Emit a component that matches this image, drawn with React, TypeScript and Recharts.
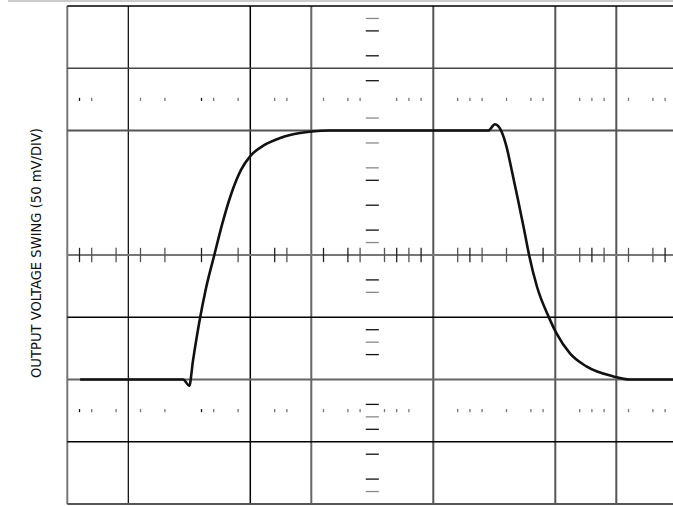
import { LineChart, Line, XAxis, YAxis, ReferenceLine } from "recharts";

// trace, in divisions (x: 0..10 time, y: 0..8 at 50 mV/div)
const timeDiv = [
  0.21, 1.9, 2.0, 2.06, 2.16, 2.27, 2.41, 2.54, 2.68, 2.85, 3.01, 3.22, 3.49,
  3.815, 4.01, 4.3, 6.9, 7.01, 7.12, 7.2, 7.29, 7.39, 7.48, 7.57, 7.7, 7.89,
  8.02, 8.24, 8.51, 8.95, 9.22, 10,
];
const swingDiv = [
  2.0, 2.0, 1.9, 2.3, 2.9, 3.45, 4.0, 4.5, 4.96, 5.37, 5.6, 5.76, 5.88, 5.96,
  5.985, 6.0, 6.0, 6.1, 5.98, 5.74, 5.34, 4.88, 4.45, 4.0, 3.49, 3.01, 2.74,
  2.42, 2.21, 2.05, 2.0, 2.0,
];

// graticule
const gridX = [0, 1, 3, 4, 6, 8, 9];
const gridY = [0, 1, 2, 3, 4, 6, 7, 8];
// minor divisions (5 per div) on the centre line
const centerTicks = [1, 2, 4, 6, 8, 11, 14, 17, 18, 21, 23, 24, 26, 27, 28, 29, 32, 33, 34, 36, 39, 42, 43, 44, 46, 48, 49];
const upperDots = [1, 2, 6, 8, 11, 12, 14, 17, 18, 21, 23, 24, 27, 28, 29, 32, 33, 34, 36, 38, 39, 42, 43, 44, 46, 48, 49];
const lowerDots = [1, 2, 4, 6, 8, 11, 12, 14, 17, 18, 21, 23, 24, 26, 27, 28, 32, 33, 34, 36, 38, 39, 42, 43, 44, 46, 48, 49];
// minor divisions counted from the top on the centre column
const centerDashes = [1, 2, 4, 6, 9, 11, 13, 14, 16, 18, 19, 22, 23, 26, 27, 28, 32, 33, 34, 36, 38, 39];

const yLabel = "OUTPUT VOLTAGE SWING (50 mV/DIV)";

const data = timeDiv.map((t, i) => ({ t, v: swingDiv[i] }));

const xStyle: Record<number, [string, number]> = {
  0: ["#777", 2], 1: ["#000", 1.2], 3: ["#000", 1.5], 4: ["#666", 2],
  6: ["#555", 2], 8: ["#555", 2], 9: ["#555", 2],
};
const yStyle: Record<number, [string, number]> = {
  0: ["#555", 2], 1: ["#000", 1.5], 2: ["#666", 2], 3: ["#000", 1.5],
  4: ["#777", 2], 6: ["#555", 2], 7: ["#444", 1.5], 8: ["#000", 1.5],
};

export default function App() {
  return (
    <div style={{ position: "fixed", left: 0, top: 0, width: 673, height: 506, overflow: "hidden", background: "#fff" }}>
      <div style={{ position: "absolute", left: 8, right: 0, top: 0, height: 1.5, background: "#ccc" }} />
      <svg width={70} height={506} style={{ position: "absolute", left: 0, top: 0 }}>
        <text
          x={37}
          y={253}
          transform="rotate(-90, 37, 253)"
          textAnchor="middle"
          dominantBaseline="middle"
          fontFamily="'Liberation Sans Narrow', 'DejaVu Sans Condensed', 'Arial Narrow', sans-serif"
          fontSize={14}
          textLength={250}
          lengthAdjust="spacingAndGlyphs"
          fill="#111"
        >
          {yLabel}
        </text>
      </svg>
      <div style={{ position: "absolute", left: 0, top: 0 }}>
        <LineChart width={700} height={506} data={data} margin={{ top: 6, right: 22.7, bottom: 2, left: 67.3 }}>
          <XAxis dataKey="t" type="number" domain={[0, 10]} hide />
          <YAxis type="number" domain={[0, 8]} hide />
          {gridX.map((x) => (
            <ReferenceLine key={`gx${x}`} x={x} stroke={xStyle[x][0]} strokeWidth={xStyle[x][1]} />
          ))}
          {gridY.map((y) => (
            <ReferenceLine key={`gy${y}`} y={y} stroke={yStyle[y][0]} strokeWidth={yStyle[y][1]} />
          ))}
          {centerTicks.map((k) => (
            <ReferenceLine
              key={`ct${k}`}
              segment={[{ x: k * 0.2, y: 3.885 }, { x: k * 0.2, y: 4.115 }]}
              stroke={k % 2 ? "#222" : "#555"}
              strokeWidth={1.3}
            />
          ))}
          {upperDots.map((k) => (
            <ReferenceLine
              key={`ud${k}`}
              segment={[{ x: k * 0.2, y: 6.475 }, { x: k * 0.2, y: 6.525 }]}
              stroke={k === 1 || k === 11 ? "#111" : "#777"}
              strokeWidth={1.3}
            />
          ))}
          {lowerDots.map((k) => (
            <ReferenceLine
              key={`ld${k}`}
              segment={[{ x: k * 0.2, y: 1.475 }, { x: k * 0.2, y: 1.525 }]}
              stroke={k === 1 || k === 11 ? "#111" : "#777"}
              strokeWidth={1.3}
            />
          ))}
          {centerDashes.map((j) => (
            <ReferenceLine
              key={`cd${j}`}
              segment={[{ x: 4.893, y: 8 - j * 0.2 }, { x: 5.107, y: 8 - j * 0.2 }]}
              stroke={j % 2 ? "#888" : "#111"}
              strokeWidth={1.3}
            />
          ))}
          <Line
            type="monotone"
            dataKey="v"
            stroke="#111"
            strokeWidth={2.6}
            dot={false}
            isAnimationActive={false}
          />
        </LineChart>
      </div>
    </div>
  );
}
